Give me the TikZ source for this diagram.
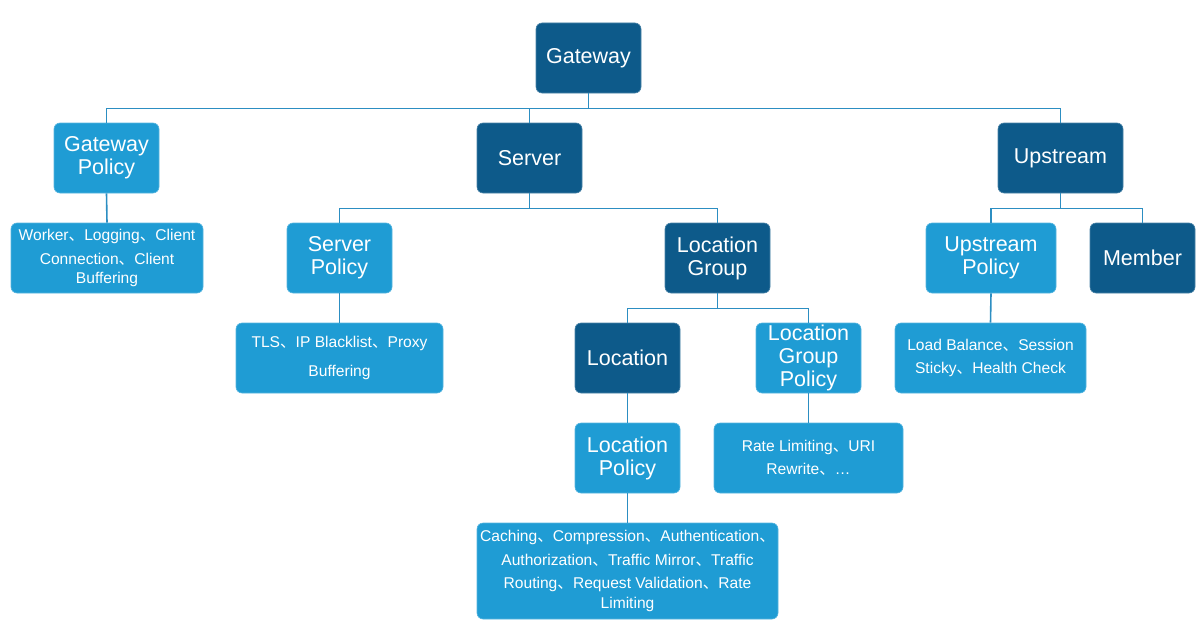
\documentclass[tikz,border=0pt]{standalone}
\usepackage{fontspec}
\setmainfont{Liberation Sans}
\newfontfamily\cjk{Noto Sans CJK SC}
\newcommand\dun{{\cjk 、}}
\definecolor{dark}{HTML}{0D5A8A}
\definecolor{light}{HTML}{1F9CD4}
\definecolor{wirec}{HTML}{2C8EC2}
\tikzset{
  base/.style={rectangle, rounded corners=6pt, inner sep=0pt, align=center, text=white, line width=0.6pt},
  dbox/.style={base, fill=dark, draw=dark!75!white, minimum width=105pt, minimum height=70pt, font=\fontsize{21.5}{23}\selectfont},
  lbox/.style={base, fill=light, draw=light!75!white, minimum height=70pt, font=\fontsize{21.5}{23}\selectfont},
  tbox/.style={base, fill=light, draw=light!75!white, minimum height=70pt, font=\fontsize{15.6}{23.5}\selectfont},
  wire/.style={draw=wirec, line width=1.6pt}
}
\begin{document}
\begin{tikzpicture}[x=1pt,y=-1pt]
\useasboundingbox (0,0) rectangle (1202,634);
% level 0
\node[dbox] (gw) at (588.5,58) {Gateway};
% level 1
\node[lbox, minimum width=105pt] (gp) at (106.5,158) {Gateway\\Policy};
\node[dbox] (srv) at (529.5,158) {Server};
\node[dbox, minimum width=125pt] (up) at (1060.5,158) {Upstream};
% level 2
\node[tbox, minimum width=192pt] (gpt) at (107,258) {Worker\dun Logging\dun Client\\Connection\dun Client\\[-4pt]Buffering};
\node[lbox, minimum width=105pt] (sp) at (339.5,258) {Server\\Policy};
\node[dbox] (lg) at (717.5,258) {Location\\Group};
\node[lbox, minimum width=130pt] (upp) at (991,258) {Upstream\\Policy};
\node[dbox] (mem) at (1142.5,258) {Member};
% level 3
\node[tbox, minimum width=207pt] (spt) at (339.5,358) {TLS\dun IP Blacklist\dun Proxy\\[5pt]Buffering};
\node[dbox] (loc) at (627.5,358) {Location};
\node[lbox, minimum width=105pt] (lgp) at (808.5,358) {Location\\Group\\Policy};
\node[tbox, minimum width=191pt] (uppt) at (990.5,358) {Load Balance\dun Session\\Sticky\dun Health Check};
% level 4
\node[lbox, minimum width=105pt] (lp) at (627.5,458) {Location\\Policy};
\node[tbox, minimum width=189pt] (lgpt) at (808.5,458) {Rate Limiting\dun URI\\Rewrite\dun \dots};
% level 5
\node[tbox, minimum width=301pt, minimum height=96pt] (lpt) at (627.5,571) {Caching\dun Compression\dun Authentication\dun\\Authorization\dun Traffic Mirror\dun Traffic\\Routing\dun Request Validation\dun Rate\\[-4pt]Limiting};
% connectors
\draw[wire] (gw.south) -- ++(0,15) -| (gp.north);
\draw[wire] (gw.south) -- ++(0,15) -| (srv.north);
\draw[wire] (gw.south) -- ++(0,15) -| (up.north);
\draw[wire] (srv.south) -- ++(0,15) -| (sp.north);
\draw[wire] (srv.south) -- ++(0,15) -| (lg.north);
\draw[wire] (up.south) -- ++(0,15) -| (upp.north);
\draw[wire] (up.south) -- ++(0,15) -| (mem.north);
\draw[wire] (lg.south) -- ++(0,15) -| (loc.north);
\draw[wire] (lg.south) -- ++(0,15) -| (lgp.north);
\draw[wire] (gp.south) -- (gpt.north);
\draw[wire] (sp.south) -- (spt.north);
\draw[wire] (upp.south) -- (uppt.north);
\draw[wire] (loc.south) -- (lp.north);
\draw[wire] (lgp.south) -- (lgpt.north);
\draw[wire] (lp.south) -- (lpt.north);
\end{tikzpicture}
\end{document}
